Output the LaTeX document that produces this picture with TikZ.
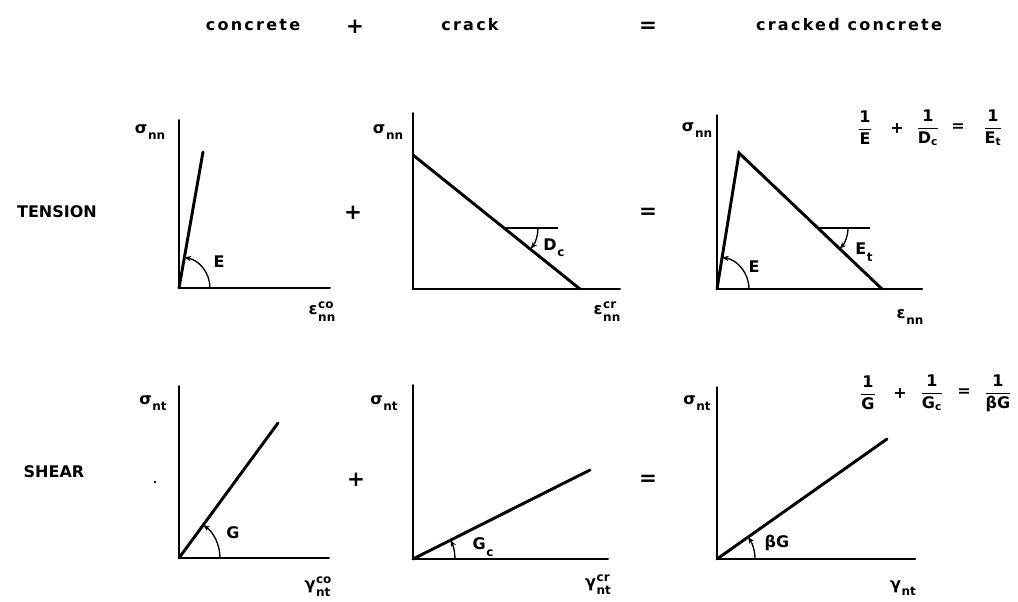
\documentclass[tikz,border=0pt]{standalone}
\usepackage{amsmath}
\usepackage{fontspec}
\setmainfont{DejaVu Sans}[BoldFont=DejaVu Sans Bold]
\usetikzlibrary{arrows.meta}
\tikzset{
  axis/.style={line width=1.5pt, line cap=round, line join=miter},
  curve/.style={line width=2.2pt, line cap=round, line join=miter},
  thin line/.style={line width=1pt},
  ang/.style={line width=1pt, -{Stealth[length=5pt,width=4pt]}},
  lbl/.style={font=\fontsize{12}{14}\selectfont\bfseries, inner sep=0pt},
  head/.style={font=\fontsize{12}{14}\selectfont\bfseries\addfontfeatures{LetterSpace=14}, inner sep=0pt},
  op/.style={font=\fontsize{16}{18}\selectfont\bfseries, inner sep=0pt}
}
\newcommand{\tx}[1]{\text{#1}}
\newcommand{\lsupsub}[3]{#1\kern0.5pt\raisebox{-0.45em}{\fontsize{9}{10}\selectfont\begin{tabular}[b]{@{}l@{}}#2\\#3\end{tabular}}}
\newcommand{\lsub}[2]{#1\kern0.5pt\raisebox{-0.4em}{\fontsize{9}{10}\selectfont #2}}
\begin{document}
\begin{tikzpicture}[x=0.75pt,y=-0.75pt]
\useasboundingbox (0,0) rectangle (1018,601);
% header
\node[head] (h1) at (253,25) {concrete};
\node[op] (h2) at (355,27) {+};
\node[head] (h3) at (470,25) {crack};
\node[op] (h4) at (648,27) {=};
\node[head] (h5) at (849,25) {cracked concrete};
% row labels
\node[lbl] (r1) at (57,212) {TENSION};
\node[lbl] (r2) at (54,472) {SHEAR};
\node[op] (p1) at (353,213) {+};
\node[op] (e1) at (648,213) {=};
\node[op] (p2) at (356,480) {+};
\node[op] (e2) at (648,480) {=};
% ---------- plot 1
\coordinate (O1) at (179,288);
\coordinate (Y1) at (179,120);
\coordinate (X1) at (330,288);
\coordinate (L1) at (203,152);
\draw[axis] (Y1) -- (O1) -- (X1);
\draw[curve] (O1) -- (L1);
\draw[ang] (O1) ++(31,0) arc[start angle=0,end angle=-80,radius=31];
\node[lbl] (s1) at (150,132) {\lsub{σ}{nn}};
\node[lbl] (a1) at (219,262) {E};
\node[lbl] (x1) at (322,312) {\lsupsub{ε}{co}{nn}};
% ---------- plot 2
\coordinate (O2) at (413,289);
\coordinate (Y2) at (413,113);
\coordinate (X2) at (620,289);
\coordinate (A2) at (413,155);
\coordinate (B2) at (580,289);
\coordinate (P2) at (505,228);
\coordinate (Q2) at (558,228);
\draw[axis] (Y2) -- (O2) -- (X2);
\draw[curve] (A2) -- (B2);
\draw[thin line] (P2) -- (Q2);
\draw[ang] (P2) ++(33,0) arc[start angle=0,end angle=38.7,radius=33];
\node[lbl] (s2) at (388,132) {\lsub{σ}{nn}};
\node[lbl] (a2) at (554,248) {\lsub{D}{c}};
\node[lbl] (x2) at (607,312) {\lsupsub{ε}{cr}{nn}};
% ---------- plot 3
\coordinate (O3) at (717,289);
\coordinate (Y3) at (717,115);
\coordinate (X3) at (922,289);
\coordinate (T3) at (739,153);
\coordinate (B3) at (882,289);
\coordinate (P3) at (818,228);
\coordinate (Q3) at (870,228);
\draw[axis] (Y3) -- (O3) -- (X3);
\draw[curve] (O3) -- (T3) -- (B3);
\draw[thin line] (P3) -- (Q3);
\draw[ang] (O3) ++(32,0) arc[start angle=0,end angle=-80.8,radius=32];
\draw[ang] (P3) ++(30,0) arc[start angle=0,end angle=43.6,radius=30];
\node[lbl] (s3) at (697,130) {\lsub{σ}{nn}};
\node[lbl] (a3) at (754,267) {E};
\node[lbl] (b3) at (864,252) {\lsub{E}{t}};
\node[lbl] (x3) at (910,317) {\lsub{ε}{nn}};
\node[lbl] (f1) at (865,128) {$\dfrac{\tx{1}}{\tx{E}}$};
\node[lbl] (f2) at (897,128) {+};
\node[lbl] (f3) at (928,128) {$\dfrac{\tx{1}}{\tx{D}_{\tx{c}}}$};
\node[lbl] (f4) at (958,128) {=};
\node[lbl] (f5) at (993,128) {$\dfrac{\tx{1}}{\tx{E}_{\tx{t}}}$};
% ---------- plot 4
\coordinate (O4) at (179,558);
\coordinate (Y4) at (179,386);
\coordinate (X4) at (329,558);
\coordinate (L4) at (278,423);
\draw[axis] (Y4) -- (O4) -- (X4);
\draw[curve] (O4) -- (L4);
\draw[ang] (O4) ++(41,0) arc[start angle=0,end angle=-53.7,radius=41];
\node[lbl] (s4) at (153,403) {\lsub{σ}{nt}};
\node[lbl] (a4) at (233,533) {G};
\node[lbl] (x4) at (318,587) {\lsupsub{γ}{co}{nt}};
\fill (155,482) circle[radius=1.3];
% ---------- plot 5
\coordinate (O5) at (413,559);
\coordinate (Y5) at (413,385);
\coordinate (X5) at (608,559);
\coordinate (L5) at (590,470);
\draw[axis] (Y5) -- (O5) -- (X5);
\draw[curve] (O5) -- (L5);
\draw[ang] (O5) ++(42,0) arc[start angle=0,end angle=-26.7,radius=42];
\node[lbl] (s5) at (384,403) {\lsub{σ}{nt}};
\node[lbl] (a5) at (483,547) {\lsub{G}{c}};
\node[lbl] (x5) at (598,585) {\lsupsub{γ}{cr}{nt}};
% ---------- plot 6
\coordinate (O6) at (717,559);
\coordinate (Y6) at (717,387);
\coordinate (X6) at (915,559);
\coordinate (L6) at (887,439);
\draw[axis] (Y6) -- (O6) -- (X6);
\draw[curve] (O6) -- (L6);
\draw[ang] (O6) ++(38,0) arc[start angle=0,end angle=-35.2,radius=38];
\node[lbl] (s6) at (697,403) {\lsub{σ}{nt}};
\node[lbl] (a6) at (777,543) {βG};
\node[lbl] (x6) at (903,588) {\lsub{γ}{nt}};
\node[lbl] (g1) at (868,393) {$\dfrac{\tx{1}}{\tx{G}}$};
\node[lbl] (g2) at (900,393) {+};
\node[lbl] (g3) at (932,393) {$\dfrac{\tx{1}}{\tx{G}_{\tx{c}}}$};
\node[lbl] (g4) at (964,393) {=};
\node[lbl] (g5) at (998,393) {$\dfrac{\tx{1}}{\tx{βG}}$};
\end{tikzpicture}
\end{document}
